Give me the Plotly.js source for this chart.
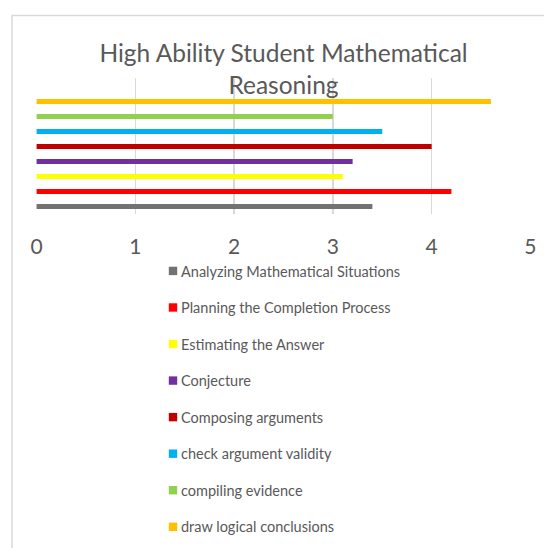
<!DOCTYPE html>
<html>
<head>
<meta charset="utf-8">
<script src="https://cdn.plot.ly/plotly-3.0.1.min.js"></script>
<style>
  html, body { margin: 0; padding: 0; background: #fff; }
  #chart { width: 544px; height: 548px; }
</style>
</head>
<body>
<div id="chart"></div>
<script>
// ---- data ----
const seriesNames = [
  "Analyzing Mathematical Situations",
  "Planning the Completion Process",
  "Estimating the Answer",
  "Conjecture",
  "Composing arguments",
  "check argument validity",
  "compiling evidence",
  "draw logical conclusions"
];
const seriesValues = [3.4, 4.2, 3.1, 3.2, 4.0, 3.5, 3.0, 4.6];
const seriesColors = ["#767171", "#FF0000", "#FFFF00", "#7030A0", "#C00000", "#00B0F0", "#92D050", "#FFC000"];
const category = ["Reasoning"];
const xTicks = [0, 1, 2, 3, 4, 5];
const titleText = "High Ability Student Mathematical<br>Reasoning";

const FONT = "Lato, 'Open Sans', sans-serif";
const GREY = "#595959";

const traces = seriesNames.map((name, i) => ({
  type: "bar",
  orientation: "h",
  name: name,
  legendgroup: "g" + i,
  x: [seriesValues[i]],
  y: category,
  marker: { color: seriesColors[i], line: { width: 0 } },
  hoverinfo: "x+name"
}));

const L = 36, R = 531, T = 78, B = 214, W = 544, H = 548;
const pw = R - L, ph = B - T;
const px = v => (v - L) / pw;
const py = v => (B - v) / ph;

const layout = {
  width: W, height: H,
  margin: { l: L, r: W - R, t: T, b: H - B, pad: 0, autoexpand: false },
  paper_bgcolor: "#ffffff",
  plot_bgcolor: "rgba(0,0,0,0)",
  font: { family: FONT, color: GREY },
  title: {
    text: titleText,
    font: { family: FONT, size: 24.5, color: GREY },
    x: 0.5, xref: "paper",
    y: 1 - 62 / H, yref: "container", yanchor: "middle"
  },
  barmode: "group",
  bargap: 0,
  bargroupgap: 0.667,
  xaxis: {
    range: [-0.006, 5.006],
    tickvals: xTicks,
    ticktext: xTicks.map(String),
    showgrid: true,
    gridcolor: "#d9d9d9",
    gridwidth: 1.5,
    zeroline: false,
    showline: false,
    ticks: "",
    tickfont: { family: FONT, size: 21, color: GREY },
    ticklabelstandoff: 18,
    automargin: false,
    fixedrange: true
  },
  yaxis: {
    type: "category",
    range: [-0.5, 0.633],
    showticklabels: false,
    showgrid: false,
    zeroline: false,
    showline: false,
    ticks: "",
    automargin: false,
    fixedrange: true
  },
  showlegend: true,
  legend: {
    orientation: "v",
    traceorder: "grouped",
    x: px(141), xanchor: "left",
    y: py(255), yanchor: "top",
    font: { family: FONT, size: 14.5, color: GREY },
    tracegroupgap: 14.7,
    maxheight: 700,
    bgcolor: "rgba(0,0,0,0)",
    itemclick: false, itemdoubleclick: false
  },
  shapes: [{
    type: "rect", xref: "paper", yref: "paper",
    x0: px(12), x1: px(560), y0: py(570), y1: py(15.5),
    line: { color: "#d9d9d9", width: 1.5 },
    fillcolor: "rgba(0,0,0,0)", layer: "below"
  }]
};

Plotly.newPlot("chart", traces, layout, { displayModeBar: false, staticPlot: true }).then(gd => {
  // shrink legend swatches to Excel-like small squares close to the text
  gd.querySelectorAll("g.legendpoints path").forEach(p => {
    const t = p.getAttribute("transform") || "";
    p.setAttribute("transform", t + " translate(12,0) scale(0.7)");
  });
});
</script>
</body>
</html>
